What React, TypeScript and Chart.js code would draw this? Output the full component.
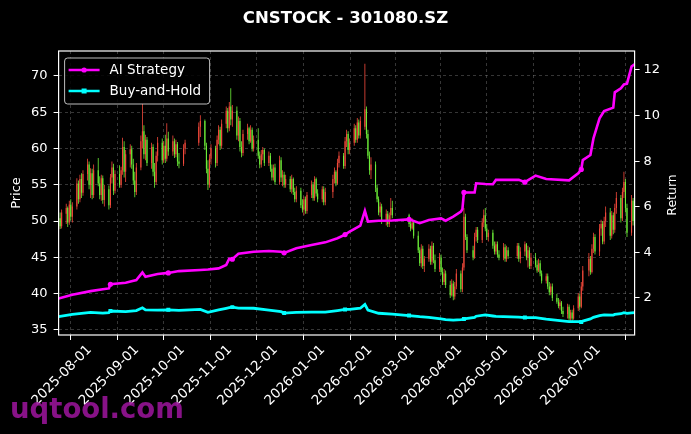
import React, { useEffect, useRef } from "react";
import { Chart, registerables } from "chart.js";

Chart.register(...registerables);

// ---------------- data ----------------
const TITLE = "CNSTOCK - 301080.SZ";
const START_DATE = "2025-07-09";
const END_DATE = "2026-07-22";
const holidays = [
  "2025-10-01", "2025-10-02", "2025-10-03", "2025-10-06", "2025-10-07", "2025-10-08",
  "2026-01-01", "2026-01-02",
  "2026-02-16", "2026-02-17", "2026-02-18", "2026-02-19", "2026-02-20", "2026-02-23",
  "2026-04-06", "2026-05-01", "2026-05-04", "2026-05-05", "2026-06-19",
];
const monthTicks = [
  "2025-08-01", "2025-09-01", "2025-10-01", "2025-11-01", "2025-12-01", "2026-01-01",
  "2026-02-01", "2026-03-01", "2026-04-01", "2026-05-01", "2026-06-01", "2026-07-01",
];
const priceTicks = [35, 40, 45, 50, 55, 60, 65, 70];
const returnTicks = [2, 4, 6, 8, 10, 12];

const opens = [
  // 2025-07
  48.8, 50.4, 49.3, 51.0, 51.8, 49.8, 52.3, 50.6, 52.0, 55.2, 53.0, 55.8, 53.9, 56.5, 57.8, 55.0, 56.6,
  // 2025-08
  53.6, 57.0, 55.2, 53.6, 55.9, 52.9, 54.4, 52.2, 56.0, 57.4, 54.2, 56.5, 55.0, 57.0, 60.2, 56.8, 59.2, 59.9, 57.8, 55.6, 54.0,
  // 2025-09
  57.4, 61.0, 62.4, 59.2, 61.2, 58.0, 60.2, 56.8, 55.4, 59.0, 60.8, 58.4, 60.4, 58.6, 61.4, 59.6, 61.0, 59.2, 60.6, 58.2, 57.9, 60.0,
  // 2025-10
  60.8, 63.0, 63.8, 60.4, 57.2, 55.0, 58.6, 60.0, 58.0, 61.2, 62.6, 60.4, 63.4, 65.2, 62.8, 65.8, 64.0,
  // 2025-11
  65.2, 61.8, 63.8, 60.2, 59.4, 62.0, 62.8, 61.0, 62.6, 60.0, 61.2, 59.0, 57.8, 59.2, 59.8, 58.0, 59.0, 57.2, 56.0, 57.4,
  // 2025-12
  55.4, 58.4, 56.0, 56.4, 55.0, 55.8, 54.4, 55.8, 54.0, 53.0, 54.2, 52.2, 51.6, 53.0, 51.4, 53.6, 55.0, 53.2, 55.8, 53.8, 53.0, 54.4, 52.6,
  // 2026-01
  54.0, 55.8, 56.8, 55.2, 58.0, 59.0, 57.6, 61.0, 62.0, 59.8, 60.8, 62.8, 61.2, 63.6, 61.8, 63.0, 65.4, 62.0, 59.0, 57.0,
  // 2026-02
  57.8, 54.6, 53.0, 51.2, 52.0, 50.0, 51.0, 49.6, 50.8, 51.8, 50.8, 49.6, 49.0, 49.8,
  // 2026-03
  48.0, 46.0, 44.2, 46.2, 43.8, 44.8, 46.2, 44.4, 46.6, 44.6, 43.4, 45.0, 43.0, 41.6, 42.8, 41.2, 39.8, 41.4, 39.6, 41.0, 42.8, 40.6,
  // 2026-04
  43.6, 50.6, 47.8, 46.0, 45.0, 47.8, 48.8, 47.4, 49.8, 50.8, 49.0, 47.8, 48.4, 46.6, 45.8, 46.8, 45.4, 45.0, 46.4, 44.8, 46.0,
  // 2026-05
  45.2, 46.6, 44.8, 45.8, 46.8, 45.0, 46.0, 43.8, 45.0, 44.0, 43.2, 44.2, 42.8, 41.8, 42.4, 41.0, 40.2, 41.0,
  // 2026-06
  39.4, 38.9, 38.3, 38.8, 37.6, 37.2, 38.2, 36.6, 37.4, 36.6, 38.0, 39.6, 38.2, 41.0, 43.2, 44.8, 43.0, 46.2, 47.8, 45.8, 49.0,
  // 2026-07
  49.6, 47.2, 50.0, 51.2, 48.0, 50.8, 48.8, 51.8, 53.2, 50.4, 54.0, 55.4, 51.8, 48.4, 52.8, 50.0,
];
const highs = [
  50.9, 51.2, 51.6, 52.4, 52.0, 52.8, 53.0, 52.6, 55.9, 55.6, 56.4, 56.6, 57.0, 58.6, 58.2, 57.3, 57.2,
  57.8, 58.7, 56.2, 56.4, 56.3, 55.0, 54.9, 56.5, 58.2, 57.9, 57.0, 57.7, 57.5, 61.5, 61.0, 59.8, 60.6, 60.4, 58.6, 56.8, 58.0,
  61.8, 66.2, 63.2, 61.9, 61.6, 60.8, 60.6, 58.0, 59.6, 61.6, 61.4, 61.0, 61.9, 63.5, 62.3, 61.8, 61.4, 61.2, 60.9, 59.4, 60.6, 61.2,
  63.6, 64.6, 64.0, 60.8, 58.4, 59.2, 60.6, 60.4, 61.8, 63.2, 63.0, 64.0, 65.8, 65.6, 66.4, 68.3, 66.0,
  65.8, 64.4, 64.2, 61.0, 62.6, 63.4, 63.0, 63.2, 62.9, 61.8, 62.8, 59.6, 59.8, 60.2, 60.0, 59.6, 59.4, 57.8, 57.8, 57.9,
  59.0, 58.8, 57.0, 56.8, 56.4, 56.2, 56.4, 56.0, 54.6, 54.8, 54.6, 53.0, 53.4, 53.4, 54.0, 55.6, 55.4, 56.2, 56.0, 54.4, 54.8, 54.8, 54.6,
  56.4, 57.4, 57.0, 58.6, 59.6, 59.4, 61.6, 62.6, 62.4, 61.4, 63.4, 63.2, 64.2, 64.0, 64.4, 71.7, 65.8, 62.6, 59.6, 58.8,
  58.2, 55.0, 53.4, 52.6, 52.4, 51.6, 51.4, 51.2, 53.2, 52.8, 51.0, 50.2, 50.4, 50.0,
  48.6, 46.4, 46.8, 46.6, 45.2, 46.8, 46.6, 47.2, 47.0, 45.4, 45.6, 45.4, 43.6, 43.4, 43.2, 41.8, 42.0, 41.8, 41.6, 43.4, 43.2, 44.2,
  51.8, 51.0, 48.2, 46.6, 48.4, 49.2, 49.2, 50.4, 51.6, 51.8, 49.6, 48.8, 48.8, 47.2, 47.2, 47.2, 46.0, 47.0, 46.8, 46.6, 46.4,
  47.0, 47.0, 46.4, 47.2, 47.0, 46.6, 46.4, 45.6, 45.6, 44.6, 44.8, 44.6, 43.2, 42.8, 42.8, 41.6, 41.4, 41.4,
  40.0, 39.4, 39.2, 39.0, 38.2, 38.6, 38.5, 37.8, 37.8, 38.4, 40.1, 40.0, 41.6, 43.8, 45.6, 45.2, 46.8, 48.4, 48.2, 49.6, 50.2,
  50.0, 50.6, 52.0, 51.8, 51.4, 51.2, 52.4, 54.0, 53.6, 54.6, 56.8, 55.8, 52.4, 53.6, 53.2, 54.0,
];
const lows = [
  48.2, 48.9, 49.0, 49.6, 49.2, 49.5, 50.1, 49.8, 51.6, 52.4, 52.6, 53.2, 53.5, 55.6, 54.4, 53.2, 53.0,
  53.2, 54.8, 53.0, 52.8, 52.4, 52.0, 51.6, 51.8, 55.2, 53.6, 53.8, 54.6, 54.6, 56.4, 56.0, 55.4, 57.4, 57.2, 55.0, 53.3, 53.6,
  57.0, 60.0, 58.6, 58.4, 57.6, 57.2, 56.2, 54.6, 55.0, 58.2, 57.8, 58.0, 58.0, 58.2, 59.0, 59.0, 58.7, 58.8, 57.6, 57.3, 57.6, 59.2,
  60.4, 61.6, 59.8, 56.6, 54.3, 54.6, 57.8, 57.4, 57.6, 60.6, 59.8, 60.0, 62.8, 62.2, 62.4, 63.2, 63.0,
  61.2, 61.0, 59.6, 58.8, 59.0, 61.2, 60.6, 60.8, 59.6, 59.6, 58.6, 57.3, 57.4, 58.4, 57.6, 57.6, 56.8, 55.6, 55.6, 55.0,
  55.0, 55.4, 54.8, 54.6, 54.6, 54.0, 53.8, 53.6, 52.6, 52.6, 51.8, 51.2, 50.8, 51.0, 51.0, 53.2, 52.8, 52.8, 53.4, 52.6, 52.6, 52.2, 52.2,
  53.2, 55.2, 54.8, 55.0, 57.4, 57.2, 57.2, 60.2, 59.2, 59.2, 60.4, 60.8, 60.8, 61.4, 61.4, 62.6, 61.4, 58.6, 56.4, 55.8,
  54.0, 52.6, 50.8, 50.6, 49.6, 49.4, 49.2, 49.2, 50.2, 50.4, 49.2, 48.6, 48.8, 47.6,
  45.6, 43.8, 43.6, 43.4, 43.0, 44.4, 44.0, 44.0, 44.2, 43.0, 43.0, 42.6, 41.2, 41.2, 40.8, 39.4, 39.6, 39.1, 39.2, 40.6, 40.2, 40.2,
  43.2, 47.4, 45.6, 44.6, 44.8, 47.2, 47.0, 47.0, 49.2, 48.6, 47.4, 47.2, 46.2, 45.4, 45.4, 45.0, 44.6, 44.6, 44.4, 44.4, 44.8,
  44.8, 44.4, 44.2, 45.2, 44.6, 43.6, 43.4, 43.4, 43.6, 42.9, 43.0, 42.4, 41.4, 41.4, 40.6, 39.8, 39.8, 39.0,
  38.6, 38.0, 37.8, 37.2, 36.8, 36.6, 36.2, 36.1, 36.2, 36.4, 37.6, 37.8, 38.0, 40.4, 42.4, 42.6, 42.8, 45.6, 45.4, 45.2, 48.0,
  46.8, 46.8, 49.2, 47.4, 47.6, 48.2, 48.4, 51.0, 49.8, 50.0, 53.2, 51.2, 47.8, 48.0, 49.4, 47.8,
];
const closes = [
  50.4, 49.3, 51.2, 51.8, 49.8, 52.3, 50.6, 52.0, 55.2, 53.0, 55.8, 53.9, 56.5, 57.8, 55.0, 56.6, 53.6,
  57.0, 55.2, 53.6, 55.9, 52.9, 54.4, 52.2, 56.0, 57.4, 54.2, 56.5, 55.0, 57.0, 60.2, 56.8, 59.2, 59.9, 57.8, 55.6, 54.0, 57.4,
  61.0, 62.4, 59.2, 61.2, 58.0, 60.2, 56.8, 55.4, 59.0, 60.8, 58.4, 60.4, 58.6, 61.4, 59.6, 61.0, 59.2, 60.6, 58.2, 57.9, 60.0, 60.8,
  63.0, 63.8, 60.4, 57.2, 55.0, 58.6, 60.0, 58.0, 61.2, 62.6, 60.4, 63.4, 65.2, 62.8, 65.8, 64.0, 65.2,
  61.8, 63.8, 60.2, 59.4, 62.0, 62.8, 61.0, 62.6, 60.0, 61.2, 59.0, 57.8, 59.2, 59.8, 58.0, 59.0, 57.2, 56.0, 57.4, 55.4,
  58.4, 56.0, 56.4, 55.0, 55.8, 54.4, 55.8, 54.0, 53.0, 54.2, 52.2, 51.6, 53.0, 51.4, 53.6, 55.0, 53.2, 55.8, 53.8, 53.0, 54.4, 52.6, 54.0,
  55.8, 56.8, 55.2, 58.0, 59.0, 57.6, 61.0, 62.0, 59.8, 60.8, 62.8, 61.2, 63.6, 61.8, 63.8, 65.4, 62.0, 59.0, 57.0, 57.8,
  54.6, 53.0, 51.2, 52.0, 50.0, 51.0, 49.6, 50.8, 51.8, 50.8, 49.6, 49.0, 49.8, 48.0,
  46.0, 44.2, 46.2, 43.8, 44.8, 46.2, 44.4, 46.6, 44.6, 43.4, 45.0, 43.0, 41.6, 42.8, 41.2, 39.8, 41.4, 39.6, 41.0, 42.8, 40.6, 43.6,
  50.6, 47.8, 46.0, 45.0, 47.8, 48.8, 47.4, 49.8, 50.8, 49.0, 47.8, 48.4, 46.6, 45.8, 46.8, 45.4, 45.0, 46.4, 44.8, 46.0, 45.2,
  46.6, 44.8, 45.8, 46.8, 45.0, 46.0, 43.8, 45.0, 44.0, 43.2, 44.2, 42.8, 41.8, 42.4, 41.0, 40.2, 41.0, 39.4,
  38.9, 38.3, 38.8, 37.6, 37.2, 38.2, 36.6, 37.4, 36.6, 38.0, 39.6, 38.2, 41.0, 43.2, 44.8, 43.0, 46.2, 47.8, 45.8, 49.0, 49.6,
  47.2, 50.0, 51.2, 48.0, 50.8, 48.8, 51.8, 53.2, 50.4, 54.0, 55.4, 51.8, 48.4, 52.8, 50.0, 52.6,
];

const lineDates = [
  "2025-07-09", "2025-07-18", "2025-07-30", "2025-08-07", "2025-08-11", "2025-08-12", "2025-08-22", "2025-08-29",
  "2025-09-02", "2025-09-04", "2025-09-12", "2025-09-19", "2025-09-26", "2025-10-10", "2025-10-15", "2025-10-22",
  "2025-10-27", "2025-10-29", "2025-10-31", "2025-11-04", "2025-11-14", "2025-11-24", "2025-12-02", "2025-12-04",
  "2025-12-12", "2025-12-22", "2025-12-31", "2026-01-08", "2026-01-13", "2026-01-16", "2026-01-23", "2026-01-26",
  "2026-01-28", "2026-02-04", "2026-02-13", "2026-02-24", "2026-03-03", "2026-03-09", "2026-03-17", "2026-03-20",
  "2026-03-25", "2026-03-30", "2026-03-31", "2026-04-01", "2026-04-08", "2026-04-09", "2026-04-15", "2026-04-20",
  "2026-04-22", "2026-05-07", "2026-05-11", "2026-05-18", "2026-05-25", "2026-06-09", "2026-06-15", "2026-06-17",
  "2026-06-18", "2026-06-23", "2026-06-25", "2026-06-29", "2026-07-02", "2026-07-08", "2026-07-09", "2026-07-13",
  "2026-07-15", "2026-07-17", "2026-07-20", "2026-07-22",
];
const aiStrategy = [
  1.98, 2.14, 2.30, 2.38, 2.42, 2.60, 2.67, 2.79,
  3.12, 2.93, 3.05, 3.10, 3.18, 3.23, 3.25, 3.30,
  3.45, 3.72, 3.70, 3.94, 4.03, 4.06, 4.03, 3.98,
  4.18, 4.32, 4.44, 4.62, 4.78, 4.91, 5.17, 5.82,
  5.35, 5.39, 5.40, 5.45, 5.28, 5.42, 5.49, 5.39,
  5.57, 5.79, 5.90, 6.63, 6.63, 7.03, 7.00, 6.99,
  7.18, 7.18, 7.08, 7.37, 7.22, 7.16, 7.47, 7.64,
  8.05, 8.27, 9.00, 9.88, 10.20, 10.35, 11.02, 11.20,
  11.37, 11.40, 12.15, 12.25,
];
const buyAndHold = [
  1.18, 1.28, 1.37, 1.34, 1.36, 1.43, 1.40, 1.45,
  1.57, 1.48, 1.47, 1.48, 1.46, 1.50, 1.37, 1.48,
  1.55, 1.58, 1.60, 1.56, 1.55, 1.47, 1.40, 1.34,
  1.37, 1.38, 1.38, 1.45, 1.50, 1.50, 1.55, 1.72,
  1.47, 1.33, 1.29, 1.23, 1.18, 1.15, 1.08, 1.05,
  1.03, 1.05, 1.06, 1.08, 1.15, 1.20, 1.26, 1.21,
  1.19, 1.16, 1.14, 1.14, 1.07, 0.96, 0.96, 0.95,
  0.99, 1.08, 1.15, 1.23, 1.26, 1.25, 1.28, 1.31,
  1.36, 1.33, 1.35, 1.36,
];
const tradeDates = [
  "2025-08-12", "2025-09-19", "2025-10-31", "2025-12-04", "2026-01-13",
  "2026-02-24", "2026-04-01", "2026-05-11", "2026-06-17",
];

// ---------------- helpers ----------------
const DAY = 86400000;
const dayNum = (s: string) => {
  const [y, m, d] = s.split("-").map(Number);
  return Date.UTC(y, m - 1, d) / DAY;
};
const fmtDay = (v: number) => new Date(Math.round(v) * DAY).toISOString().slice(0, 10);

function tradingDays(): string[] {
  const hs = new Set(holidays);
  const out: string[] = [];
  for (let t = dayNum(START_DATE); t <= dayNum(END_DATE); t++) {
    const dt = new Date(t * DAY);
    const wd = dt.getUTCDay();
    if (wd === 0 || wd === 6) continue;
    const s = dt.toISOString().slice(0, 10);
    if (!hs.has(s)) out.push(s);
  }
  return out;
}

const FONT = "DejaVu Sans";
const UP = "#f4493b";
const DOWN = "#6cef38";
const MAGENTA = "#ff00ff";
const CYAN = "#00ffff";
const GRID = "rgba(150,150,150,0.45)";

const decorPlugin = {
  id: "decor",
  beforeDraw(chart: any) {
    const { ctx, width, height } = chart;
    ctx.save();
    ctx.fillStyle = "#000";
    ctx.fillRect(0, 0, width, height);
    ctx.restore();
  },
  afterDraw(chart: any) {
    const { ctx, chartArea: a } = chart;
    ctx.save();
    // frame
    ctx.strokeStyle = "#ffffff";
    ctx.lineWidth = 1.2;
    ctx.strokeRect(a.left, a.top, a.right - a.left, a.bottom - a.top);

    // legend
    const bx = a.left + 6, by = a.top + 7, bw = 145, bh = 46, r = 3;
    ctx.beginPath();
    ctx.moveTo(bx + r, by);
    ctx.lineTo(bx + bw - r, by);
    ctx.quadraticCurveTo(bx + bw, by, bx + bw, by + r);
    ctx.lineTo(bx + bw, by + bh - r);
    ctx.quadraticCurveTo(bx + bw, by + bh, bx + bw - r, by + bh);
    ctx.lineTo(bx + r, by + bh);
    ctx.quadraticCurveTo(bx, by + bh, bx, by + bh - r);
    ctx.lineTo(bx, by + r);
    ctx.quadraticCurveTo(bx, by, bx + r, by);
    ctx.closePath();
    ctx.fillStyle = "rgba(0,0,0,0.85)";
    ctx.fill();
    ctx.strokeStyle = "rgba(210,210,210,0.9)";
    ctx.lineWidth = 1;
    ctx.stroke();

    const items = chart.data.datasets.filter((d: any) => d.type === "line");
    items.forEach((d: any, i: number) => {
      const y = by + 12 + i * 21;
      ctx.strokeStyle = d.borderColor;
      ctx.lineWidth = 2.5;
      ctx.beginPath();
      ctx.moveTo(bx + 4, y);
      ctx.lineTo(bx + 35, y);
      ctx.stroke();
      ctx.fillStyle = d.borderColor;
      if (d.pointStyle === "rect") {
        ctx.fillRect(bx + 17, y - 2.5, 5, 5);
      } else {
        ctx.beginPath();
        ctx.arc(bx + 19.5, y, 2.6, 0, Math.PI * 2);
        ctx.fill();
      }
      ctx.fillStyle = "#ffffff";
      ctx.font = `13.5px "${FONT}"`;
      ctx.textAlign = "left";
      ctx.textBaseline = "middle";
      ctx.fillText(d.label, bx + 45, y + 0.5);
    });

    // right axis title
    ctx.save();
    ctx.translate(673, (a.top + a.bottom) / 2 + 2);
    ctx.rotate(-Math.PI / 2);
    ctx.fillStyle = "#ffffff";
    ctx.font = `12.5px "${FONT}"`;
    ctx.textAlign = "center";
    ctx.textBaseline = "middle";
    ctx.fillText("Return", 0, 0);
    ctx.restore();

    // watermark
    ctx.fillStyle = "rgba(150,20,150,0.9)";
    ctx.font = `bold 27.5px "${FONT}"`;
    ctx.textAlign = "left";
    ctx.textBaseline = "alphabetic";
    ctx.fillText("uqtool.com", 10, 418);
    ctx.restore();
  },
};

export default function App() {
  const ref = useRef<HTMLCanvasElement | null>(null);

  useEffect(() => {
    if (!ref.current) return;
    const days = tradingDays();
    const n = Math.min(days.length, opens.length, highs.length, lows.length, closes.length);
    const xs = days.slice(0, n).map(dayNum);
    const colors = xs.map((_, i) => (closes[i] >= opens[i] ? UP : DOWN));

    const wick = xs.map((x, i) => ({ x, y: [lows[i], highs[i]] }));
    const body = xs.map((x, i) => ({ x, y: [opens[i], closes[i]] }));

    const isTrade = (d: string) => tradeDates.includes(d);

    const chart = new Chart(ref.current, {
      type: "line",
      data: {
        datasets: [
          {
            type: "line",
            label: "AI Strategy",
            data: lineDates.map((d, i) => ({ x: dayNum(d), y: aiStrategy[i] })),
            yAxisID: "y1",
            borderColor: MAGENTA,
            backgroundColor: MAGENTA,
            borderWidth: 2.6,
            pointStyle: "circle",
            pointRadius: lineDates.map((d) => (isTrade(d) ? 2.6 : 0)),
            pointBackgroundColor: MAGENTA,
            pointBorderWidth: 0,
            tension: 0,
            order: 0,
          } as any,
          {
            type: "line",
            label: "Buy-and-Hold",
            data: lineDates.map((d, i) => ({ x: dayNum(d), y: buyAndHold[i] })),
            yAxisID: "y1",
            borderColor: CYAN,
            backgroundColor: CYAN,
            borderWidth: 2.8,
            pointStyle: "rect",
            pointRadius: lineDates.map((d) => (isTrade(d) ? 2.8 : 0)),
            pointBackgroundColor: CYAN,
            pointBorderWidth: 0,
            tension: 0,
            order: 1,
          } as any,
          {
            type: "bar",
            label: "wick",
            data: wick,
            yAxisID: "y",
            backgroundColor: colors,
            borderWidth: 0,
            barThickness: 0.8,
            grouped: false,
            inflateAmount: 0,
            order: 3,
          } as any,
          {
            type: "bar",
            label: "body",
            data: body,
            yAxisID: "y",
            backgroundColor: colors,
            borderWidth: 0,
            barThickness: 1.1,
            grouped: false,
            inflateAmount: 0,
            order: 2,
          } as any,
        ],
      },
      options: {
        responsive: false,
        devicePixelRatio: 1,
        animation: false,
        layout: { padding: 0 },
        font: { family: FONT },
        scales: {
          x: {
            type: "linear",
            min: dayNum(START_DATE),
            max: dayNum(END_DATE),
            offset: false,
            afterBuildTicks: (s: any) => {
              s.ticks = monthTicks.map((d) => ({ value: dayNum(d) }));
            },
            afterFit: (s: any) => {
              s.height = 99;
            },
            ticks: {
              color: "#ffffff",
              font: { family: FONT, size: 13.5 },
              minRotation: 45,
              maxRotation: 45,
              autoSkip: false,
              padding: 2,
              labelOffset: -4,
              callback: (v: any) => fmtDay(Number(v)),
            },
            grid: {
              color: GRID,
              lineWidth: 0.8,
              tickColor: "#ffffff",
              tickLength: 5,
              tickWidth: 1,
              tickBorderDash: [],
            },
            border: { display: false, dash: [3, 3] },
          },
          y: {
            type: "linear",
            position: "left",
            min: 34.31,
            max: 73.44,
            afterBuildTicks: (s: any) => {
              s.ticks = priceTicks.map((v) => ({ value: v }));
            },
            afterFit: (s: any) => {
              s.width = 58.6;
            },
            ticks: {
              color: "#ffffff",
              font: { family: FONT, size: 13 },
              padding: 6,
            },
            grid: {
              color: GRID,
              lineWidth: 0.8,
              tickColor: "#ffffff",
              tickLength: 5,
              tickWidth: 1,
              tickBorderDash: [],
            },
            border: { display: false, dash: [3, 3] },
            title: {
              display: true,
              text: "Price",
              color: "#ffffff",
              font: { family: FONT, size: 13 },
              padding: { top: 9, bottom: 0 },
            },
          },
          y1: {
            type: "linear",
            position: "right",
            min: 0.377,
            max: 12.833,
            afterBuildTicks: (s: any) => {
              s.ticks = returnTicks.map((v) => ({ value: v }));
            },
            afterFit: (s: any) => {
              s.width = 56.4;
            },
            ticks: {
              color: "#ffffff",
              font: { family: FONT, size: 13 },
              padding: 4,
            },
            grid: {
              drawOnChartArea: false,
              tickColor: "#ffffff",
              tickLength: 5,
              tickWidth: 1,
            },
            border: { display: false },
          },
        },
        plugins: {
          legend: { display: false },
          tooltip: { enabled: false },
          title: {
            display: true,
            text: TITLE,
            color: "#ffffff",
            font: { family: FONT, size: 16.5, weight: "bold" },
            padding: { top: 8.5, bottom: 22.7 },
          },
        },
      } as any,
      plugins: [decorPlugin],
    });
    return () => chart.destroy();
  }, []);

  return (
    <div style={{ position: "fixed", left: 0, top: 0, width: 691, height: 434, background: "#000" }}>
      <canvas ref={ref} width={691} height={434} style={{ width: 691, height: 434, display: "block" }} />
    </div>
  );
}
